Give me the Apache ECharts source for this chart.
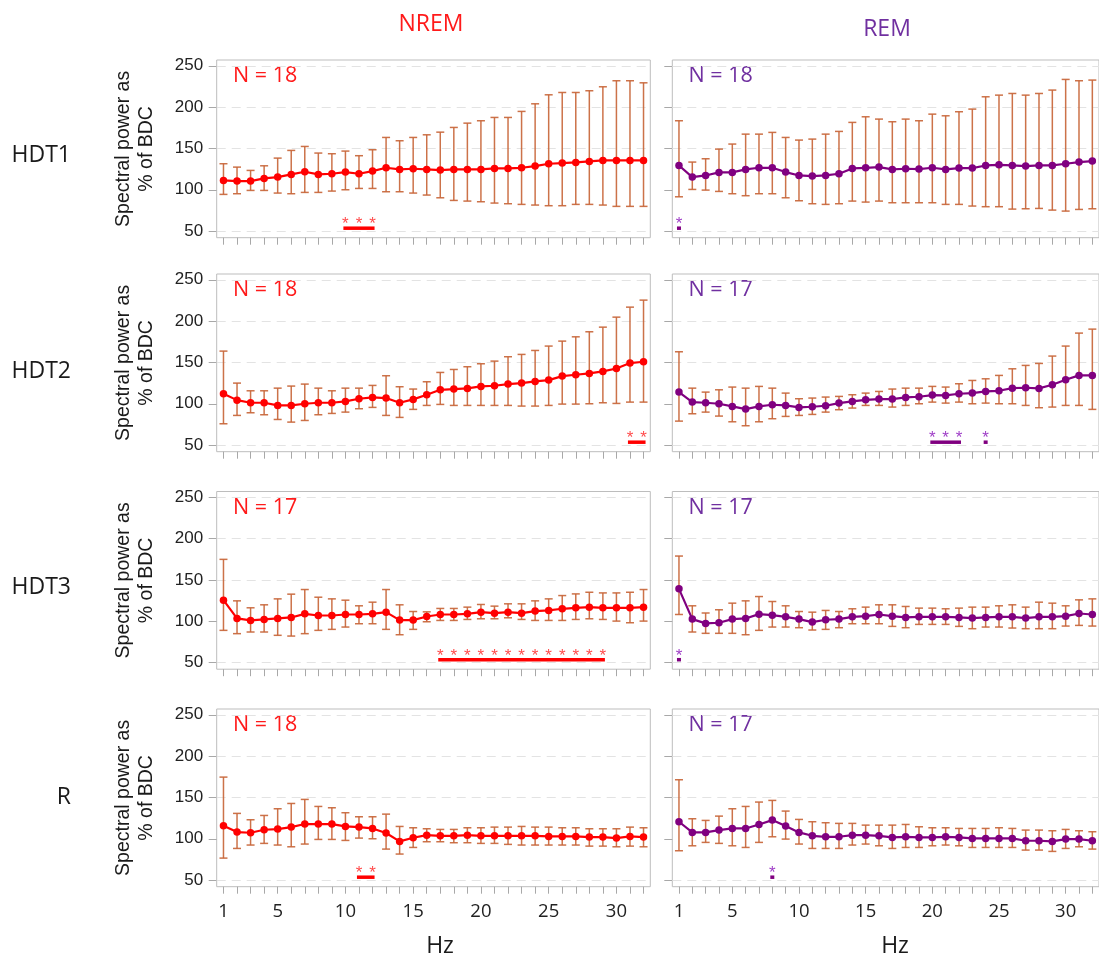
<!DOCTYPE html>
<html>
<head>
<meta charset="utf-8">
<title>Spectral power as % of BDC</title>
<script src="https://cdn.jsdelivr.net/npm/echarts@6/dist/echarts.min.js"></script>
<style>
  html, body { margin: 0; padding: 0; background: #ffffff; overflow: hidden; }
  #chart { width: 1099px; height: 959px; }
</style>
</head>
<body>
<div id="chart"></div>
<script>
// ---- data ---------------------------------------------------------------
const hz = [1, 2, 3, 4, 5, 6, 7, 8, 9, 10, 11, 12, 13, 14, 15, 16,
            17, 18, 19, 20, 21, 22, 23, 24, 25, 26, 27, 28, 29, 30, 31, 32];
const yTickValues = [50, 100, 150, 200, 250];
const xTickLabels = [1, 5, 10, 15, 20, 25, 30];
const stages = ['NREM', 'REM'];
const conditions = ['HDT1', 'HDT2', 'HDT3', 'R'];
const nremN = [18, 18, 17, 18];
const remN = [18, 17, 17, 17];

// NREM, HDT1
const nremHdt1Mean  = [111.3,110.5,110.5,113.7,115.3,118.6,121.8,118.6,119.4,121.4,119.4,122.6,126.6,124.6,125.4,124.6,123.8,124.6,124.6,124.6,125.8,125.8,126.6,128.6,131.5,132.3,133.1,134.3,135.5,135.5,135.5,135.5];
const nremHdt1Upper = [131.5,127.4,123.4,129.0,138.3,147.6,152.4,144.4,143.6,146.8,141.2,148.4,163.3,159.3,163.3,166.5,169.7,175.4,180.6,183.5,187.5,187.5,194.8,204.0,214.9,217.7,217.7,219.8,224.6,231.9,231.9,229.4];
const nremHdt1Lower = [94.4,95.2,99.2,99.2,96.0,95.2,96.8,96.8,98.4,100.0,101.6,101.6,97.6,97.6,96.0,93.6,90.3,87.1,86.3,85.5,83.9,83.1,82.3,81.5,80.7,80.7,82.3,82.3,81.5,79.9,79.9,79.9];
// REM, HDT1
const remHdt1Mean  = [129.4,115.3,117.3,121.0,121.0,124.6,126.6,126.6,121.4,117.3,116.6,117.3,119.4,125.8,126.6,127.4,124.6,125.4,125.0,126.6,124.6,126.2,126.2,129.4,130.2,129.4,128.6,129.4,129.4,131.5,133.5,134.7];
const remHdt1Upper = [183.5,133.5,137.5,149.2,155.3,167.3,167.3,169.4,163.3,160.1,161.3,167.3,170.6,181.5,188.3,185.5,182.3,185.5,183.5,191.5,189.5,194.4,197.6,212.5,214.5,216.5,214.5,216.5,220.6,233.5,231.9,232.7];
const remHdt1Lower = [91.5,100.4,99.6,98.0,95.2,92.8,95.2,95.2,90.3,86.7,83.1,82.3,83.1,86.3,85.1,86.3,84.3,84.3,84.3,84.3,82.3,82.3,80.3,79.5,79.5,76.6,77.0,77.4,75.4,74.2,76.2,77.0];
// NREM, HDT2
const nremHdt2Mean  = [112.1,104.4,101.2,101.2,98.0,98.0,100.0,101.2,101.2,102.8,106.1,107.7,106.9,101.2,105.3,110.9,116.9,117.8,118.6,121.0,121.8,123.8,125.0,127.0,128.6,133.5,135.1,136.7,139.1,142.7,149.2,150.8];
const nremHdt2Upper = [163.7,125.0,115.7,115.7,118.9,121.4,123.8,118.9,115.7,118.9,118.9,122.2,133.9,120.6,117.8,126.6,137.9,141.5,144.8,148.4,151.6,156.9,159.7,164.5,169.8,175.8,181.0,187.1,192.7,204.8,216.9,225.4];
const nremHdt2Lower = [75.8,85.9,89.1,86.7,81.0,77.8,79.8,86.7,88.3,89.9,94.0,95.6,85.9,83.5,93.2,98.0,99.2,98.0,98.0,98.0,98.0,98.0,97.2,97.2,98.0,99.6,99.6,100.0,101.2,100.4,102.0,102.0];
// REM, HDT2
const remHdt2Mean  = [114.1,102.0,101.2,100.0,96.8,93.6,96.8,98.8,98.0,95.6,96.4,97.6,100.8,102.8,104.8,105.7,105.7,107.7,108.5,110.5,110.1,112.1,112.9,114.9,115.7,118.9,119.4,118.6,123.0,129.0,134.3,134.3];
const remHdt2Upper = [162.9,118.9,114.1,116.9,120.2,118.9,121.0,118.9,112.9,106.1,106.9,108.1,108.9,110.9,112.9,114.9,117.8,118.9,118.9,121.0,120.2,124.2,128.2,130.2,134.3,142.3,146.4,148.8,157.7,169.8,185.5,190.3];
const remHdt2Lower = [79.0,87.9,89.9,85.1,78.2,73.4,78.2,81.9,84.7,85.9,87.1,89.9,92.8,94.8,98.0,98.0,96.0,98.0,100.0,102.0,100.8,102.0,100.0,100.8,100.0,100.0,98.0,95.2,96.0,98.0,98.0,93.2];
// NREM, HDT3
const nremHdt3Mean  = [125.5,103.4,101.0,102.2,103.4,104.6,109.0,107.0,107.0,108.2,108.2,109.0,111.0,101.4,101.4,105.8,108.2,108.2,109.0,111.0,109.8,111.0,109.8,112.3,113.1,115.1,116.3,117.1,116.3,116.3,116.3,117.1];
const nremHdt3Upper = [174.9,124.7,116.3,119.9,127.1,132.8,138.4,129.1,127.1,125.5,118.7,123.1,138.4,119.9,111.8,111.4,115.5,115.5,117.1,120.3,118.3,121.1,121.1,124.7,127.1,131.1,133.1,135.1,134.3,134.3,135.1,138.4];
const nremHdt3Lower = [89.0,85.0,87.0,87.0,83.0,82.1,85.0,89.0,90.2,93.0,97.0,97.0,90.2,83.7,90.2,99.4,101.0,101.0,102.2,103.0,103.0,104.2,102.2,101.0,101.0,101.0,102.2,103.0,102.2,100.2,98.2,100.2];
// REM, HDT3
const remHdt3Mean  = [139.2,102.6,97.4,98.2,102.6,103.4,108.6,107.4,105.4,102.6,99.0,101.8,102.6,105.4,106.2,108.2,106.2,104.6,105.4,105.4,105.4,104.6,103.8,104.6,105.4,105.4,103.8,105.4,105.4,106.2,109.4,108.2];
const remHdt3Upper = [178.9,118.7,110.0,113.9,121.9,124.7,129.9,123.9,118.7,111.8,111.0,113.1,111.8,115.1,117.1,119.9,119.9,117.9,115.9,115.9,115.1,115.9,117.1,117.1,118.7,119.9,117.1,123.1,121.9,118.7,125.9,127.1];
const remHdt3Lower = [108.2,87.0,85.4,85.4,85.4,83.7,89.0,93.0,93.0,92.2,89.4,90.2,92.2,97.0,97.0,97.0,93.8,92.2,96.2,96.2,96.2,93.8,91.0,93.0,93.0,91.8,91.0,91.0,91.0,94.2,95.0,94.2];
// NREM, R
const nremRMean  = [115.7,108.1,107.3,110.9,111.7,114.1,117.8,117.8,117.8,114.9,114.1,112.5,106.9,96.8,101.2,104.4,103.6,103.6,104.4,103.6,103.6,103.6,103.6,103.6,102.8,102.8,102.8,102.0,102.0,100.8,102.8,102.0];
const nremRUpper = [174.6,130.7,123.0,128.2,136.3,142.7,147.6,139.1,137.5,131.5,126.6,126.6,129.8,114.9,113.3,112.1,111.3,111.3,113.3,113.3,114.1,114.1,114.9,114.1,114.1,113.3,113.3,112.1,112.1,112.1,114.1,113.3];
const nremRLower = [76.6,88.3,92.4,94.4,92.4,90.3,93.6,99.2,99.2,98.0,100.8,100.0,87.5,81.5,89.5,96.4,96.4,95.2,95.2,94.4,94.4,93.2,92.4,92.4,92.4,92.4,92.4,91.1,91.1,90.3,91.1,90.3];
// REM, R
const remRMean  = [120.6,107.7,107.7,110.5,112.5,112.5,117.3,122.6,115.3,107.7,103.6,102.4,102.4,104.4,104.4,103.6,101.6,102.4,101.6,101.6,102.4,101.6,100.4,100.4,100.4,100.4,97.6,97.6,96.8,99.6,99.6,97.6];
const remRUpper = [171.4,124.2,122.2,127.4,136.3,139.1,144.4,146.4,133.5,123.4,120.6,119.4,118.6,118.6,116.5,116.5,116.5,117.3,114.5,113.3,113.3,112.5,112.5,112.5,113.3,112.5,110.5,110.5,109.7,111.3,109.7,108.5];
const remRLower = [85.5,91.5,95.6,94.4,91.5,89.5,95.6,102.4,99.6,93.6,88.3,88.3,88.3,92.4,93.6,91.5,88.3,89.5,89.5,91.5,92.4,91.5,89.5,89.5,89.5,89.5,86.3,86.3,84.7,88.3,90.3,87.5];

// significant frequency runs (first Hz, last Hz)
const nremSignificant = [[[10, 12]], [[31, 32]], [[17, 29]], [[11, 12]]];
const remSignificant  = [[[1, 1]], [[20, 22], [24, 24]], [[1, 1]], [[8, 8]]];

// ---- layout & style -----------------------------------------------------
const COL_LEFT = [216.7, 672.3];
const GRID_W = 433.6;
const ROW_TOP = [60, 274, 491.5, 709];
const GRID_H = 177.7;
const Y_MIN = 42, Y_MAX = 257;
const X_MIN = 0.5, X_MAX = 32.5;
const SIG_Y = 53.5;

const LINE_COLOR = ['#ff0000', '#800080'];
const TEXT_COLOR = ['#ff1a1a', '#7030a0'];
const STAR_COLOR = ['#ff4d4d', '#a040c8'];
const ERR_COLOR = 'rgba(200,102,58,0.92)';
const CALIBRI_LIKE = "'Open Sans', 'Noto Sans', sans-serif";
const ARIAL_LIKE = "'Liberation Sans', Arial, sans-serif";

const panelData = [
  [[nremHdt1Mean, nremHdt1Upper, nremHdt1Lower], [remHdt1Mean, remHdt1Upper, remHdt1Lower]],
  [[nremHdt2Mean, nremHdt2Upper, nremHdt2Lower], [remHdt2Mean, remHdt2Upper, remHdt2Lower]],
  [[nremHdt3Mean, nremHdt3Upper, nremHdt3Lower], [remHdt3Mean, remHdt3Upper, remHdt3Lower]],
  [[nremRMean, nremRUpper, nremRLower], [remRMean, remRUpper, remRLower]]
];
const panelN = [nremN, remN];
const panelSig = [nremSignificant, remSignificant];

function errorBarRenderer(params, api) {
  const x = api.value(0);
  const lo = api.coord([x, api.value(1)]);
  const hi = api.coord([x, api.value(2)]);
  const half = 4;
  const style = { stroke: ERR_COLOR, lineWidth: 1.5 };
  return {
    type: 'group',
    children: [
      { type: 'line', shape: { x1: hi[0], y1: hi[1], x2: lo[0], y2: lo[1] }, style: style },
      { type: 'line', shape: { x1: hi[0] - half, y1: hi[1], x2: hi[0] + half, y2: hi[1] }, style: style },
      { type: 'line', shape: { x1: lo[0] - half, y1: lo[1], x2: lo[0] + half, y2: lo[1] }, style: style }
    ]
  };
}

function significanceRenderer(col) {
  return function (params, api) {
    const first = api.value(0), last = api.value(1);
    const a = api.coord([first - 0.15, SIG_Y]);
    const b = api.coord([last + 0.15, SIG_Y]);
    const children = [{
      type: 'line',
      shape: { x1: a[0], y1: a[1], x2: b[0], y2: b[1] },
      style: { stroke: LINE_COLOR[col], lineWidth: 3.5, lineCap: 'butt' }
    }];
    for (let f = first; f <= last; f++) {
      const p = api.coord([f, SIG_Y]);
      children.push({
        type: 'text', x: p[0], y: p[1] - 3.6,
        style: { text: '*', fill: STAR_COLOR[col], font: '17px ' + ARIAL_LIKE, textAlign: 'center', textVerticalAlign: 'middle' }
      });
    }
    return { type: 'group', children: children };
  };
}

const grids = [], xAxes = [], yAxes = [], series = [], graphics = [];

for (let row = 0; row < 4; row++) {
  for (let col = 0; col < 2; col++) {
    const idx = grids.length;
    const isBottom = row === 3;
    const isLeft = col === 0;
    grids.push({
      left: COL_LEFT[col], top: ROW_TOP[row], width: GRID_W, height: GRID_H,
      show: true, borderColor: '#bdbdbd', borderWidth: 1, backgroundColor: 'transparent'
    });
    xAxes.push({
      type: 'value', gridIndex: idx, min: X_MIN, max: X_MAX,
      axisLine: { show: false },
      axisTick: { show: true, inside: false, length: 7, customValues: hz, lineStyle: { color: '#a8a8a8', width: 1 } },
      axisLabel: {
        show: isBottom, customValues: xTickLabels, margin: 16,
        fontFamily: CALIBRI_LIKE, fontSize: 18.5, color: '#222'
      },
      splitLine: { show: false }
    });
    yAxes.push({
      type: 'value', gridIndex: idx, min: Y_MIN, max: Y_MAX,
      axisLine: { show: false },
      axisTick: { show: true, inside: false, length: 8, customValues: yTickValues, lineStyle: { color: '#a8a8a8', width: 1 } },
      axisLabel: {
        show: isLeft, customValues: yTickValues, margin: 13.5,
        fontFamily: ARIAL_LIKE, fontSize: 17, color: '#222'
      },
      splitLine: { show: false }
    });

    const [mean, upper, lower] = panelData[row][col];
    const refEnd = col === 0 ? 34.1 : 33.5;
    const gridLines = yTickValues.filter(v => v !== 100).map(v => [
      { coord: [X_MIN, v], lineStyle: { color: '#e3e3e3', type: [9, 6], width: 1.2 } },
      { coord: [X_MAX, v] }
    ]);
    gridLines.push([
      { coord: [X_MIN, 100], lineStyle: { color: '#8c8c8c', type: [2, 3], width: 1.2 } },
      { coord: [refEnd, 100] }
    ]);

    // error bars (+ guide lines at the tick levels and the 100 % reference)
    series.push({
      type: 'custom', xAxisIndex: idx, yAxisIndex: idx, z: 2, clip: false,
      renderItem: errorBarRenderer,
      encode: { x: 0, y: [1, 2] },
      data: hz.map((f, i) => [f, lower[i], upper[i]]),
      markLine: { silent: true, symbol: ['none', 'none'], label: { show: false }, data: gridLines, z: 1 }
    });
    // mean spectral power
    series.push({
      type: 'line', xAxisIndex: idx, yAxisIndex: idx, z: 4,
      data: hz.map((f, i) => [f, mean[i]]),
      symbol: 'circle', symbolSize: 7.5, showSymbol: true,
      lineStyle: { color: LINE_COLOR[col], width: 2.2 },
      itemStyle: { color: LINE_COLOR[col] }
    });
    // significance markers
    series.push({
      type: 'custom', xAxisIndex: idx, yAxisIndex: idx, z: 5, clip: false,
      renderItem: significanceRenderer(col),
      encode: { x: [0, 1] },
      data: panelSig[col][row]
    });

    // N label
    graphics.push({
      type: 'text', left: COL_LEFT[col] + 16.3, top: ROW_TOP[row] + 5,
      style: { text: 'N = ' + panelN[col][row], fill: TEXT_COLOR[col], font: '21.5px ' + CALIBRI_LIKE }
    });
  }
  // row label
  const labelY = [155, 371, 587, 797][row];
  graphics.push({
    type: 'text', x: 71, y: labelY,
    style: { text: conditions[row], fill: '#1a1a1a', font: '23px ' + CALIBRI_LIKE, textAlign: 'right', textVerticalAlign: 'middle' }
  });
  // y-axis title
  graphics.push({
    type: 'text', x: 135, y: ROW_TOP[row] + GRID_H / 2, rotation: Math.PI / 2,
    style: {
      text: 'Spectral power as\n% of BDC', fill: '#1a1a1a', font: '19.5px ' + ARIAL_LIKE,
      textAlign: 'center', textVerticalAlign: 'middle', lineHeight: 22.5
    }
  });
}

// column titles
graphics.push({
  type: 'text', x: 431, y: 24,
  style: { text: stages[0], fill: TEXT_COLOR[0], font: '23px ' + CALIBRI_LIKE, textAlign: 'center', textVerticalAlign: 'middle' }
});
graphics.push({
  type: 'text', x: 887, y: 29,
  style: { text: stages[1], fill: TEXT_COLOR[1], font: '23px ' + CALIBRI_LIKE, textAlign: 'center', textVerticalAlign: 'middle' }
});
// x-axis titles
[440, 895].forEach(function (cx) {
  graphics.push({
    type: 'text', x: cx, y: 946,
    style: { text: 'Hz', fill: '#1a1a1a', font: '23px ' + CALIBRI_LIKE, textAlign: 'center', textVerticalAlign: 'middle' }
  });
});

const chart = echarts.init(document.getElementById('chart'), null, { renderer: 'canvas' });
chart.setOption({
  animation: false,
  backgroundColor: '#ffffff',
  grid: grids,
  xAxis: xAxes,
  yAxis: yAxes,
  series: series,
  graphic: graphics
});
</script>
</body>
</html>
